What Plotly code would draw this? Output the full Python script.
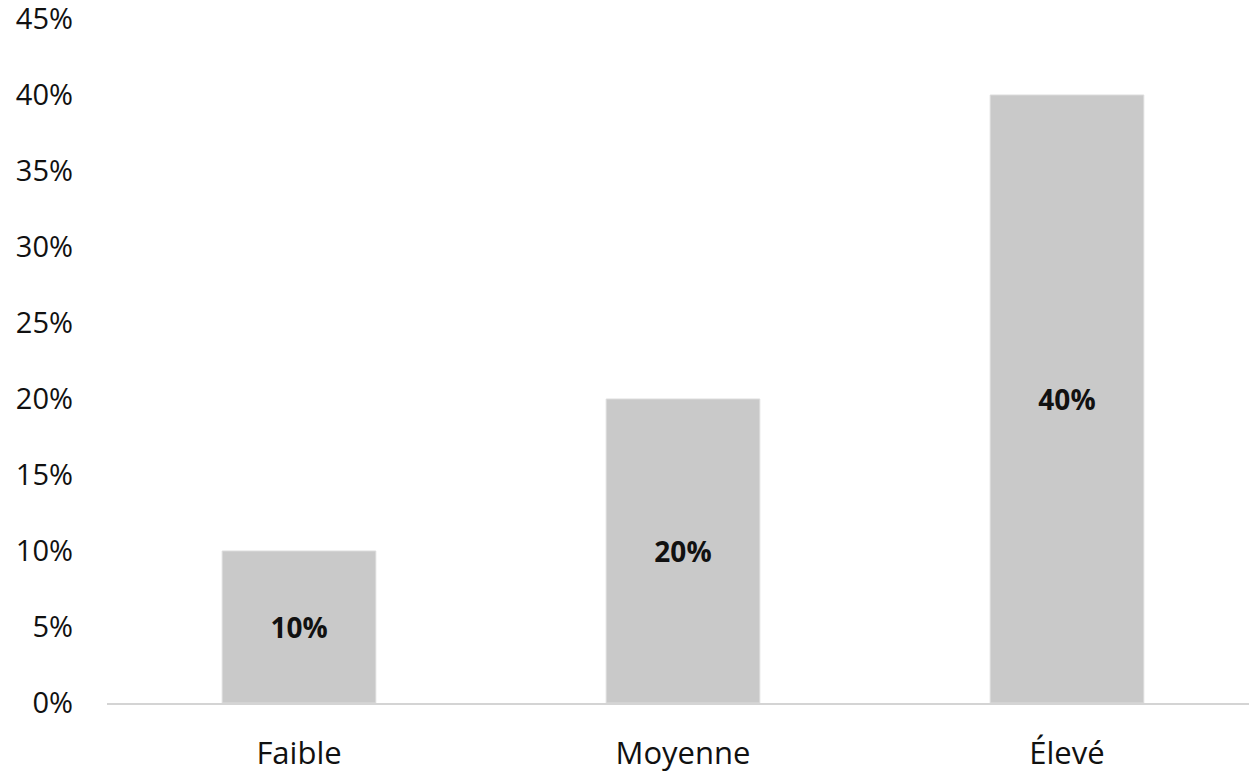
import plotly.graph_objects as go

# Niveaux et parts correspondantes
categories = ["Faible", "Moyenne", "Élevé"]
values = [0.10, 0.20, 0.40]
bar_labels = ["10%", "20%", "40%"]
y_ticks = [0, 0.05, 0.10, 0.15, 0.20, 0.25, 0.30, 0.35, 0.40, 0.45]
y_tick_text = ["0%", "5%", "10%", "15%", "20%", "25%", "30%", "35%", "40%", "45%"]

FONT = "Open Sans"

fig = go.Figure(
    go.Bar(
        x=list(range(len(categories))),
        y=values,
        width=0.4,
        text=bar_labels,
        textposition="inside",
        insidetextanchor="middle",
        textangle=0,
        textfont=dict(family=FONT, size=28, color="#111111", weight="bold"),
        marker=dict(color="#c9c9c9", line=dict(color="#dcdcdc", width=1)),
        hoverinfo="skip",
    )
)

fig.update_layout(
    width=1249,
    height=773,
    margin=dict(l=107, r=0, t=19, b=70),
    paper_bgcolor="white",
    plot_bgcolor="white",
    showlegend=False,
    font=dict(family=FONT, color="#111111"),
)

fig.update_xaxes(
    range=[-0.5, 2.474],
    tickmode="array",
    tickvals=list(range(len(categories))),
    ticktext=categories,
    tickfont=dict(family=FONT, size=31, color="#111111"),
    showgrid=False,
    zeroline=False,
    showline=True,
    linecolor="#d4d4d4",
    linewidth=2,
    ticks="",
    ticklabelstandoff=22,
)

fig.update_yaxes(
    range=[0, 0.45],
    tickmode="array",
    tickvals=y_ticks,
    ticktext=y_tick_text,
    tickfont=dict(family=FONT, size=29, color="#111111"),
    showgrid=False,
    zeroline=False,
    showline=False,
    ticks="",
    ticklabelstandoff=33,
    ticklabeloverflow="allow",
    automargin=False,
)

fig.write_html("out.html")
